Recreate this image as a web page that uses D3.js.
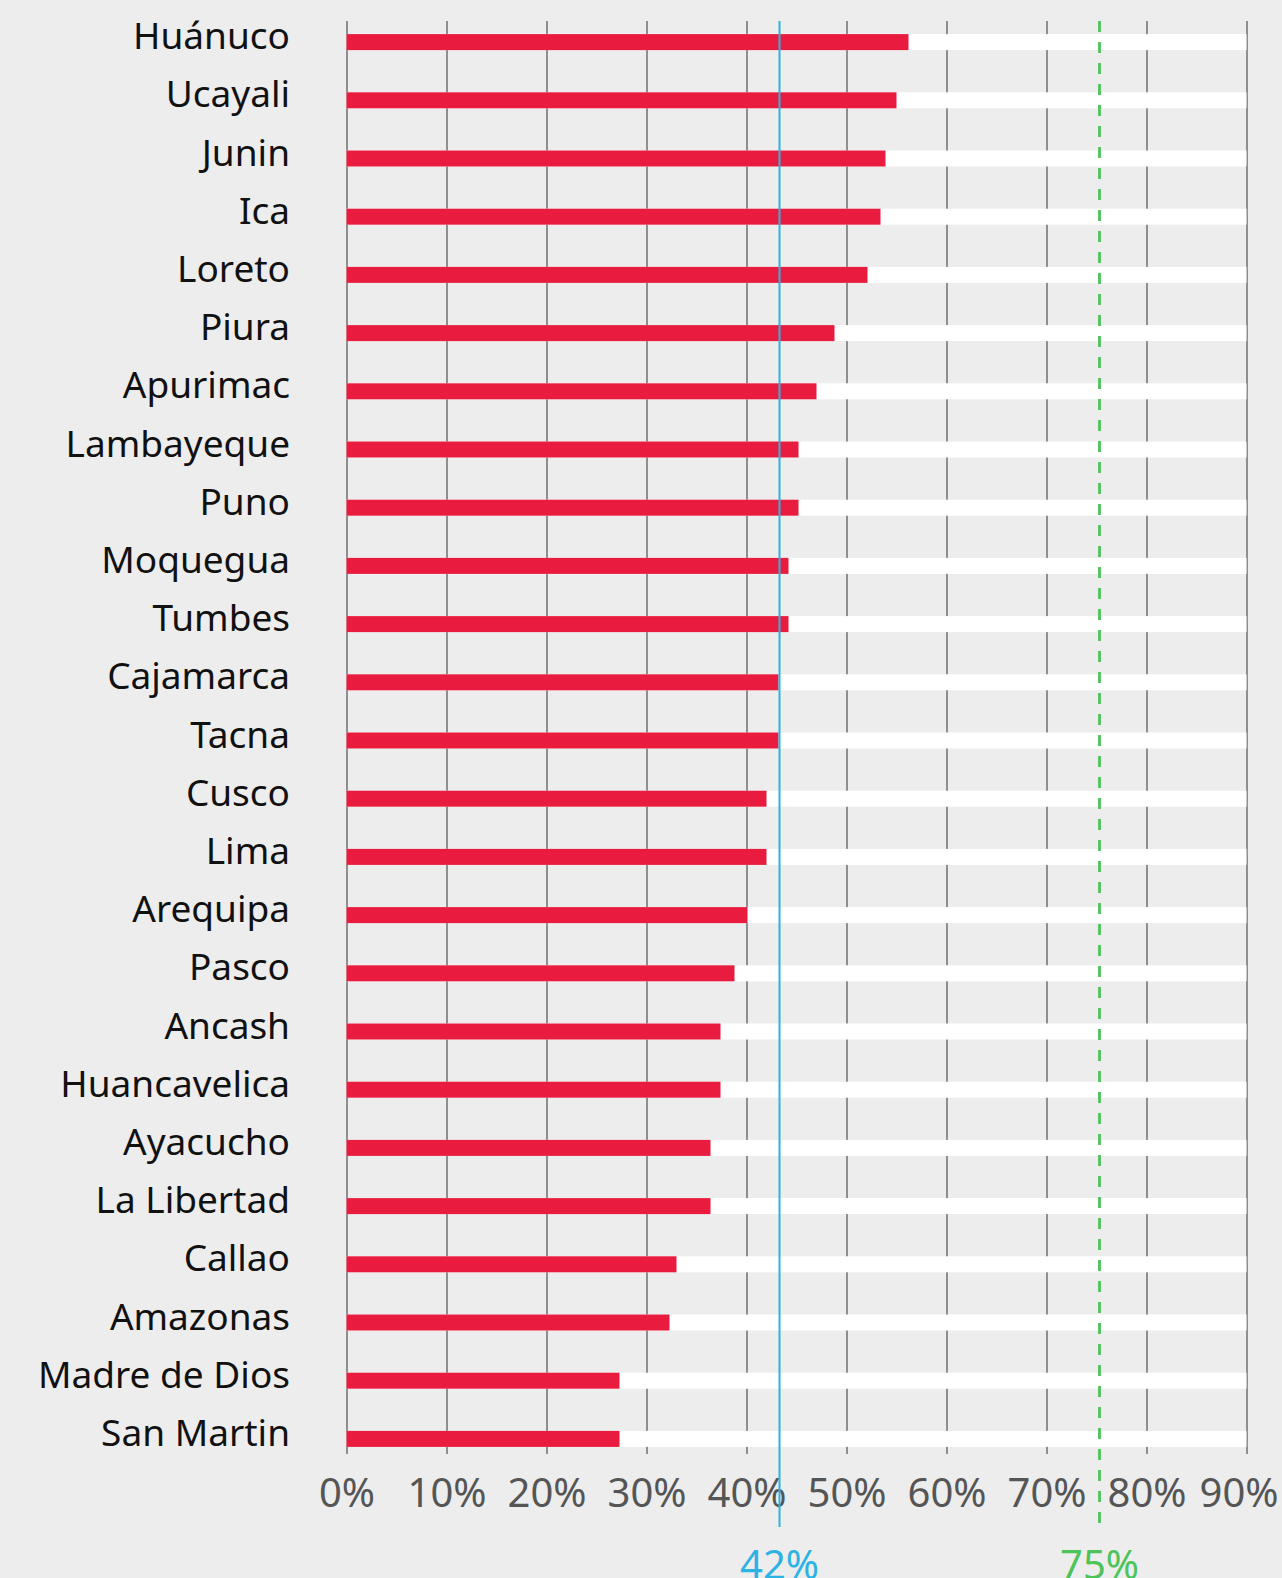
<!DOCTYPE html>
<html>
<head>
<meta charset="utf-8">
<script src="https://cdn.jsdelivr.net/npm/d3@7"></script>
<style>
  body { margin: 0; background: #ededed; }
  svg { display: block; font-family: "Noto Sans", sans-serif; }
</style>
</head>
<body>
<div class="chart"></div>
<script>
// regions, sorted as in the picture
var regions = ["Huánuco", "Ucayali", "Junin", "Ica", "Loreto", "Piura", "Apurimac",
  "Lambayeque", "Puno", "Moquegua", "Tumbes", "Cajamarca", "Tacna", "Cusco", "Lima",
  "Arequipa", "Pasco", "Ancash", "Huancavelica", "Ayacucho", "La Libertad", "Callao",
  "Amazonas", "Madre de Dios", "San Martin"];
var values = [56.2, 55.0, 53.9, 53.4, 52.1, 48.8, 47.0,
  45.2, 45.2, 44.2, 44.2, 43.2, 43.2, 42.0, 42.0,
  40.1, 38.8, 37.4, 37.4, 36.4, 36.4, 33.0,
  32.3, 27.3, 27.3];
var tickValues = [0, 10, 20, 30, 40, 50, 60, 70, 80, 90];
var tickLabels = ["0%", "10%", "20%", "30%", "40%", "50%", "60%", "70%", "80%", "90%"];
// reference lines (position, label)
var refValues = [43.3, 75.3];
var refLabels = ["42%", "75%"];

var width = 1282, height = 1578;
var margin = {left: 346.5, right: 35.5, top: 21, bottom: 124};

var svg = d3.select(".chart").append("svg")
  .attr("width", width)
  .attr("height", height);

var x = d3.scaleLinear()
  .domain([0, 90])
  .range([margin.left, width - margin.right]);

var y = d3.scaleBand()
  .domain(regions)
  .range([13, 1468]);

var barH = 16;

// grid + tick labels
var axis = d3.axisBottom(x)
  .tickValues(tickValues)
  .tickFormat(function(d, i){ return tickLabels[i]; })
  .tickSize(1433);

var gAxis = svg.append("g")
  .attr("transform", "translate(0," + margin.top + ")")
  .call(axis);
gAxis.select(".domain").remove();
gAxis.selectAll(".tick line")
  .attr("stroke", "#767676")
  .attr("stroke-width", 1.6);
gAxis.selectAll(".tick text")
  .attr("y", 1486)
  .attr("dy", 0)
  .attr("fill", "#555")
  .attr("font-size", 40)
  .attr("font-family", "Noto Sans, sans-serif")
  .each(function(d){
    // keep the last label inside the picture
    var w = this.getComputedTextLength();
    var over = x(d) + w / 2 - (width - 4);
    if (over > 0) d3.select(this).attr("x", -over);
  });

// white track behind each bar
svg.selectAll("rect.track")
  .data(regions)
  .enter().append("rect")
    .attr("class", "track")
    .attr("x", x(0))
    .attr("width", x(90) - x(0))
    .attr("y", function(d){ return y(d) + y.bandwidth() / 2 - barH / 2; })
    .attr("height", barH)
    .attr("fill", "#fff");

// red bars
svg.selectAll("rect.bar")
  .data(values)
  .enter().append("rect")
    .attr("class", "bar")
    .attr("x", x(0))
    .attr("width", function(d){ return x(d) - x(0); })
    .attr("y", function(d, i){ return y(regions[i]) + y.bandwidth() / 2 - barH / 2; })
    .attr("height", barH)
    .attr("fill", "#e91c3f");

// region labels
svg.selectAll("text.name")
  .data(regions)
  .enter().append("text")
    .attr("class", "name")
    .attr("x", 290)
    .attr("y", function(d){ return y(d) + y.bandwidth() / 2 + 7; })
    .attr("text-anchor", "end")
    .attr("font-size", 37)
    .attr("fill", "#111")
    .text(function(d){ return d; });

// reference lines
var refColors = ["#2cb3e3", "#4cc45a"];
svg.append("line")
  .attr("x1", x(refValues[0])).attr("x2", x(refValues[0]))
  .attr("y1", margin.top).attr("y2", 1527)
  .attr("stroke", refColors[0])
  .attr("stroke-width", 2);
svg.append("line")
  .attr("x1", x(refValues[1])).attr("x2", x(refValues[1]))
  .attr("y1", margin.top).attr("y2", 1527)
  .attr("stroke", refColors[1])
  .attr("stroke-width", 2.8)
  .attr("stroke-dasharray", "11,10");

svg.selectAll("text.ref")
  .data(refValues)
  .enter().append("text")
    .attr("class", "ref")
    .attr("x", function(d){ return x(d); })
    .attr("y", 1579)
    .attr("text-anchor", "middle")
    .attr("font-size", 40)
    .attr("fill", function(d, i){ return refColors[i]; })
    .text(function(d, i){ return refLabels[i]; });
</script>
</body>
</html>
